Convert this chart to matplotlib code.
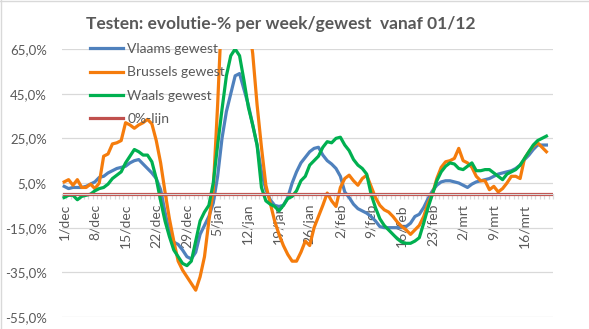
import matplotlib.pyplot as plt
import matplotlib.ticker as mticker
from matplotlib.lines import Line2D
import numpy as np

# daily evolution-% (1/dec .. 21/mrt)
vlaams = [3.5, 2.5, 3, 3, 3, 3.5, 4.5, 5.5, 7.5, 8, 9.5, 10.5, 11.5, 12, 12.5, 14,
          15, 15.5, 13.5, 11.5, 9.5, 7, 2, -8, -17, -21.5, -22.5, -25, -28, -29,
          -26, -18, -14, -10, -4, 8, 25, 37, 45, 53, 54, 47, 40, 31, 22, 10,
          2, -2.5, -5, -5.5, -5, -1.5, 5, 10, 14, 16.5, 19, 20.5, 21, 17.5, 15, 13.5,
          11.5, 8, 1, -1.5, -4.5, -6.5, -7.5, -8.5, -10, -12, -14.5, -15, -15, -15,
          -15, -15, -14.5, -13, -10, -9, -6, -2, 1.5, 4, 5.5, 6, 6, 5.5, 5, 4,
          3, 4.5, 5.5, 6, 6.5, 7, 8, 9, 9.5, 10, 10.5, 11.5, 13, 15.5, 17.5, 20,
          22, 22, 22]
brussels = [5.5, 6.5, 4, 6.5, 3, 3, 4.5, 2.5, 5, 17, 18, 22.5, 23, 24, 32, 31,
            29.5, 31, 32, 33.5, 31.5, 24, 14, 1, -11, -21, -30, -34, -37, -40,
            -43, -37, -28, -12, 2, 40, 85, 100, 105, 105, 100, 92, 78, 63, 40, 21,
            4, -4, -12, -18, -23, -27, -30, -30, -26, -21, -23, -15, -10, -5, 0.5, -3,
            -5.5, 3, 7, 8.5, 6, 4, 7, 8.5, 3.5, -1.5, -5, -7, -8, -10, -12.5, -14.5,
            -16, -18, -16, -14, -10, -4, 0, 7, 12, 14.5, 15, 16, 20.5, 15, 14, 12,
            8, 6, 6, 2, 3.5, 1, 2.5, 5, 8, 8, 7, 16, 19, 21.5, 23, 21, 19]
waals = [-1.5, -0.5, -0.5, -2.5, -1, -0.5, 0, 1.5, 2.5, 3, 4.5, 7, 8.5, 10, 14, 17,
         20, 19, 17.5, 17.5, 14.5, 7, -3, -12, -19, -25, -28, -31, -32, -30,
         -21, -12, -8, -5, 5, 22, 38, 53, 62, 65, 62, 51, 39, 31, 22, 3,
         -3, -4.5, -5.5, -7.5, -5, -2, -1, 1.5, 6, 8, 13, 15, 17, 21, 23.5, 23,
         25, 25.5, 22, 19.5, 15.5, 13, 11.5, 9, 0, -6, -11, -14, -16, -18, -20, -21.5,
         -22, -22, -21, -19.5, -13, -6, 0, 6, 10, 12.5, 14, 13.5, 11.5, 11, 12.5, 14,
         10.5, 10.5, 11, 11, 9.5, 8, 6.5, 9, 10, 11, 13, 16, 19, 22, 24, 25, 26]
nul_lijn = [0] * 112

tick_labels = ["1/dec", "8/dec", "15/dec", "22/dec", "29/dec", "5/jan", "12/jan",
               "19/jan", "26/jan", "2/feb", "9/feb", "16/feb", "23/feb", "2/mrt",
               "9/mrt", "16/mrt"]
y_ticks = [65, 45, 25, 5, -15, -35, -55]

gray = "#595959"
plt.rcParams["font.family"] = ["Lato", "DejaVu Sans"]

fig = plt.figure(figsize=(5.89, 3.29), dpi=100)
ax = fig.add_axes([62 / 589, 1 - 317 / 329, 491 / 589, 268 / 329])

ax.plot(np.arange(len(vlaams)), vlaams, color="#4F81BD", lw=2.3, label="Vlaams gewest")
ax.plot(np.arange(len(brussels)), brussels, color="#F57C0C", lw=2.3, label="Brussels gewest")
ax.plot(np.arange(len(waals)), waals, color="#00B050", lw=2.3, label="Waals gewest")
ax.plot(np.arange(len(nul_lijn)), nul_lijn, color="#C0504D", lw=2.3, label="0%-lijn")

ax.set_xlim(-0.5, len(nul_lijn) - 0.5)
ax.set_ylim(-55, 65)
ax.set_yticks(y_ticks)
ax.yaxis.set_major_formatter(mticker.FuncFormatter(lambda v, p: f"{v:.1f}%".replace(".", ",")))
ax.grid(axis="y", color="#D9D9D9", lw=0.9)
ax.set_axisbelow(True)

for s in ["top", "right", "left"]:
    ax.spines[s].set_visible(False)
ax.spines["bottom"].set_position(("data", 0))
ax.spines["bottom"].set_color("#D9D9D9")

ax.set_xticks(np.arange(0, len(nul_lijn), 7)[:len(tick_labels)])
ax.set_xticklabels(tick_labels, rotation=90, ha="center", va="top")
ax.set_xticks(np.arange(-0.5, len(nul_lijn), 1), minor=True)
ax.tick_params(axis="x", which="major", length=0, pad=7, labelsize=10, labelcolor=gray)
ax.tick_params(axis="x", which="minor", length=3.5, color="#D9D9D9", width=0.9)
ax.tick_params(axis="y", length=0, pad=11, labelsize=9.5, labelcolor=gray)

leg = ax.legend(loc="upper left", bbox_to_anchor=(0.045, 1.042), frameon=False,
                fontsize=10, handlelength=2.4, handletextpad=0.3, labelspacing=0.8,
                borderaxespad=0)
for t in leg.get_texts():
    t.set_color(gray)

fig.text(281 / 589, 1 - 24 / 329, "Testen: evolutie-% per week/gewest  vanaf 01/12",
         ha="center", va="center", fontsize=12.5, fontweight="bold", color=gray)

fig.add_artist(Line2D([0, 1], [0.998, 0.998], color="#D9D9D9", lw=1, transform=fig.transFigure))
fig.add_artist(Line2D([0.001, 0.001], [0, 1], color="#D9D9D9", lw=1, transform=fig.transFigure))

plt.savefig("out.png", dpi=100)
